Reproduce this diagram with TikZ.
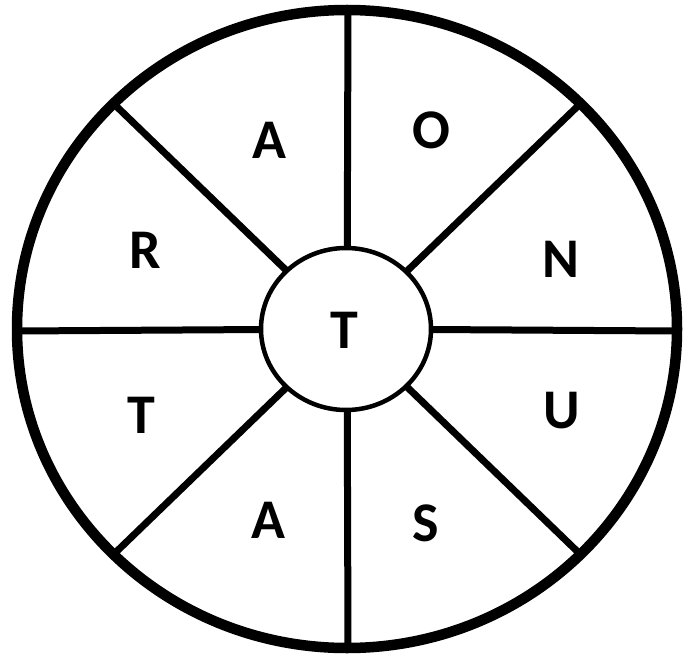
\documentclass[tikz,border=0pt]{standalone}
\usepackage{fontspec}
\setmainfont{Carlito}
\begin{document}
\begin{tikzpicture}[x=1pt,y=-1pt,
  letter/.style={font=\fontsize{56}{56}\selectfont\bfseries, inner sep=0pt, anchor=center},
  spoke/.style={line width=7pt},
  rim/.style={line width=10.5pt},
  hub/.style={line width=4.5pt, fill=white}]
\useasboundingbox (0,0) rectangle (690,655);
\coordinate (c) at (347,329);
\coordinate (pN) at (348,10);
\coordinate (pS) at (348,648);
\coordinate (pW) at (17,331);
\coordinate (pE) at (677,331);
\coordinate (pNW) at (114,104);
\coordinate (pNE) at (580,104);
\coordinate (pSW) at (114,554);
\coordinate (pSE) at (580,554);
\foreach \p in {pN,pS,pW,pE,pNW,pNE,pSW,pSE} \draw[spoke] (c) -- (\p);
\draw[rim] (c) ellipse [x radius=330, y radius=319];
\draw[hub] (346,329) ellipse [x radius=85, y radius=81];
\node[letter] (t0) at (344,330) {T};
\node[letter] (a1) at (269,140) {A};
\node[letter] (o1) at (431,130) {O};
\node[letter] (r1) at (145,250) {R};
\node[letter] (n1) at (561,259) {N};
\node[letter] (t1) at (141,415) {T};
\node[letter] (u1) at (562,411) {U};
\node[letter] (a2) at (268,520) {A};
\node[letter] (s1) at (426,523) {S};
\end{tikzpicture}
\end{document}
